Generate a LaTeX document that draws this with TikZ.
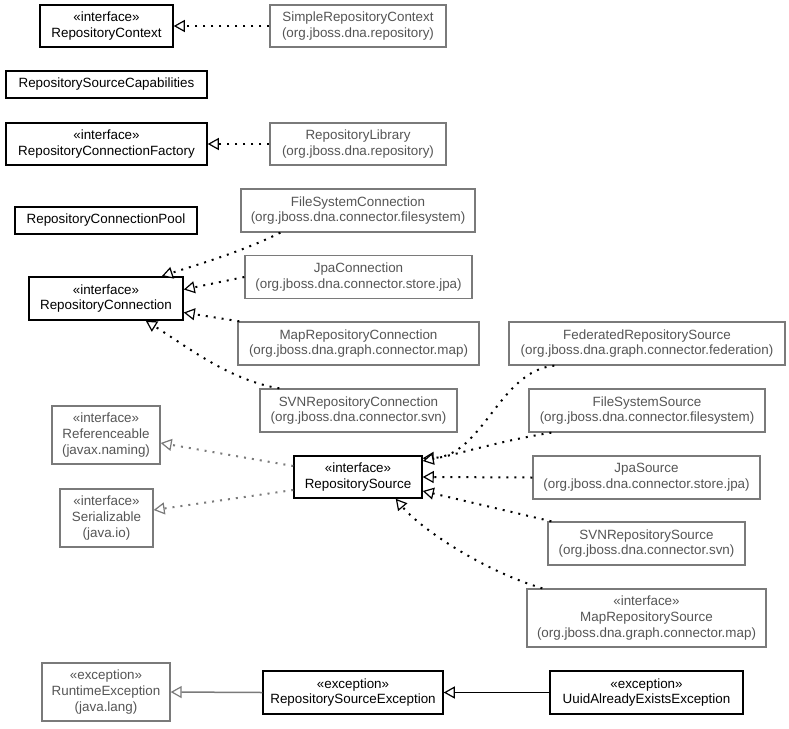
\documentclass[tikz,border=0pt]{standalone}
\usepackage{fontspec}
\setmainfont{Liberation Sans}
\usetikzlibrary{arrows.meta,calc}
\definecolor{gborder}{HTML}{7A7A7A}
\definecolor{gtext}{HTML}{555555}
\tikzset{
  cls/.style={draw=black, line width=1.5pt, fill=white, align=center, inner sep=0pt,
    font=\fontsize{13.4}{15.6}\selectfont, text=black},
  ext/.style={draw=gborder, line width=1.3pt, fill=white, align=center, inner sep=0pt,
    font=\fontsize{13.4}{15.6}\selectfont, text=gtext},
  real/.style={line width=2pt, dash pattern=on 2pt off 6pt,
    -{Triangle[length=11pt,width=12pt,fill=white,line width=1.2pt]}},
  greal/.style={real, draw=gborder},
  inh/.style={line width=1.5pt, -{Triangle[length=11pt,width=12pt,fill=white,line width=1.2pt]}},
  ginh/.style={inh, draw=gborder},
}
\begin{document}
\begin{tikzpicture}[x=1pt,y=-1pt]
\useasboundingbox[fill=white] (0,0) rectangle (789,728);
% nodes
\node[cls, minimum width=133, minimum height=42] (rctx) at (106.5,26) {«interface»\\RepositoryContext};
\node[ext, minimum width=176, minimum height=42] (srctx) at (358,26) {SimpleRepositoryContext\\(org.jboss.dna.repository)};
\node[cls, minimum width=201, minimum height=27] (rsc) at (106.5,84.5) {RepositorySourceCapabilities};
\node[cls, minimum width=201, minimum height=42] (rcf) at (106.5,144) {«interface»\\RepositoryConnectionFactory};
\node[ext, minimum width=176, minimum height=42] (rlib) at (358,144) {RepositoryLibrary\\(org.jboss.dna.repository)};
\node[cls, minimum width=182, minimum height=27] (rcp) at (106,220.5) {RepositoryConnectionPool};
\node[ext, minimum width=234, minimum height=43] (fsc) at (358,210.5) {FileSystemConnection\\(org.jboss.dna.connector.filesystem)};
\node[cls, minimum width=154, minimum height=43] (rc) at (106,298.5) {«interface»\\RepositoryConnection};
\node[ext, minimum width=227, minimum height=43] (jpac) at (358.5,277) {JpaConnection\\(org.jboss.dna.connector.store.jpa)};
\node[ext, minimum width=241, minimum height=43] (maprc) at (358.5,343.5) {MapRepositoryConnection\\(org.jboss.dna.graph.connector.map)};
\node[ext, minimum width=197, minimum height=43] (svnrc) at (358.5,410.5) {SVNRepositoryConnection\\(org.jboss.dna.connector.svn)};
\node[ext, minimum width=108, minimum height=58] (refc) at (106,435) {«interface»\\Referenceable\\(javax.naming)};
\node[ext, minimum width=93, minimum height=58] (ser) at (106.5,518) {«interface»\\Serializable\\(java.io)};
\node[cls, minimum width=128, minimum height=42] (rs) at (358,477) {«interface»\\RepositorySource};
\node[ext, minimum width=276, minimum height=43] (frs) at (647,343.5) {FederatedRepositorySource\\(org.jboss.dna.graph.connector.federation)};
\node[ext, minimum width=236, minimum height=43] (fss) at (647,410.5) {FileSystemSource\\(org.jboss.dna.connector.filesystem)};
\node[ext, minimum width=227, minimum height=43] (jpas) at (646.5,477.5) {JpaSource\\(org.jboss.dna.connector.store.jpa)};
\node[ext, minimum width=197, minimum height=43] (svnrs) at (646.5,543.5) {SVNRepositorySource\\(org.jboss.dna.connector.svn)};
\node[ext, minimum width=239, minimum height=58] (maprs) at (646.5,618) {«interface»\\MapRepositorySource\\(org.jboss.dna.graph.connector.map)};
\node[ext, minimum width=128, minimum height=58] (rte) at (106,692) {«exception»\\RuntimeException\\(java.lang)};
\node[cls, minimum width=180, minimum height=43] (rse) at (353,692.5) {«exception»\\RepositorySourceException};
\node[cls, minimum width=193, minimum height=43] (uaee) at (646.5,692.5) {«exception»\\UuidAlreadyExistsException};
% connectors
\draw[real] (srctx.west) -- (rctx.east);
\draw[real] (rlib.west) -- (rcf.east);
\draw[real] ($(fsc.south west)+(40,0)$) .. controls +(-40,20) and +(30,-10) .. ($(rc.north east)+(-22,0)$);
\draw[real] (jpac.west) -- ($(rc.east)+(0,-9)$);
\draw[real] ($(maprc.north west)+(2,0)$) -- ($(rc.east)+(0,14)$);
\draw[real] ($(svnrc.north west)+(20,0)$) .. controls +(-50,-8) and +(40,25) .. ($(rc.south east)+(-38,0)$);
\draw[greal] ($(rs.west)+(0,-11)$) -- ($(refc.east)+(0,8)$);
\draw[greal] ($(rs.west)+(0,13)$) -- ($(ser.east)+(0,-8)$);
\draw[real] ($(frs.south west)+(46,0)$) .. controls +(-55,5) and +(60,-2) .. ($(rs.north east)+(0,3)$);
\draw[real] ($(fss.south west)+(23,0)$) .. controls +(-50,8) and +(40,-8) .. ($(rs.east)+(0,-16)$);
\draw[real] (jpas.west) -- (rs.east);
\draw[real] ($(svnrs.north west)+(4,0)$) -- ($(rs.east)+(0,14)$);
\draw[real] ($(maprs.north west)+(16,0)$) .. controls +(-60,-18) and +(25,30) .. ($(rs.south east)+(-27,0)$);
\draw[ginh] (rse.west) -- (rte.east);
\draw[inh] (uaee.west) -- (rse.east);
\end{tikzpicture}
\end{document}
